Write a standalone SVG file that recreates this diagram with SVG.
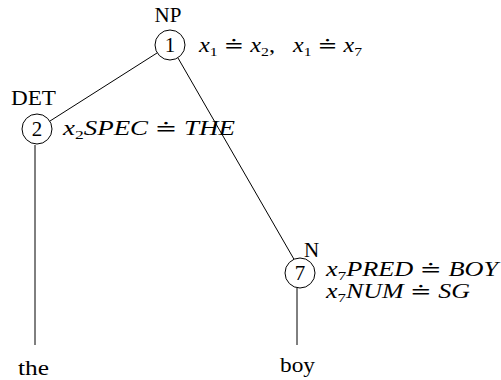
<svg xmlns="http://www.w3.org/2000/svg" width="501" height="380" viewBox="0 0 501 380">
<style>
.t{font-family:"Liberation Serif","DejaVu Serif",serif;font-size:21px;fill:#000}
.m{font-family:"Liberation Serif","DejaVu Serif",serif;font-size:20px;font-style:italic;fill:#000}
.s{font-style:normal;font-size:13px}
.r{font-style:normal}
.n{fill:#fff;stroke:#000;stroke-width:1}
.e{stroke:#000;stroke-width:1;fill:none}
</style>
<rect width="501" height="380" fill="#fff"/>
<g id="connectors">
<line class="e" x1="157" y1="53" x2="50" y2="121"/>
<line class="e" x1="178" y1="58" x2="295" y2="261"/>
<line class="e" x1="35" y1="145" x2="35" y2="345"/>
<line class="e" x1="297" y1="288" x2="297" y2="345"/>
</g>
<g id="node1">
<text class="t" x="168" y="22" text-anchor="middle">NP</text>
<circle class="n" cx="170" cy="45" r="15"/>
<text class="t" x="170" y="52" text-anchor="middle">1</text>
<text class="m" x="199" y="52" textLength="76" lengthAdjust="spacingAndGlyphs">x<tspan class="s" dy="4">1</tspan><tspan class="r" dy="-4"> ≐ </tspan>x<tspan class="s" dy="4">2</tspan><tspan class="r" dy="-4">,</tspan></text>
<text class="m" x="293" y="52" textLength="69" lengthAdjust="spacingAndGlyphs">x<tspan class="s" dy="4">1</tspan><tspan class="r" dy="-4"> ≐ </tspan>x<tspan class="s" dy="4">7</tspan></text>
</g>
<g id="node2">
<text class="t" x="11" y="105" textLength="45" lengthAdjust="spacingAndGlyphs">DET</text>
<circle class="n" cx="37" cy="129" r="15"/>
<text class="t" x="37" y="136" text-anchor="middle">2</text>
<text class="m" x="63" y="135" textLength="172" lengthAdjust="spacingAndGlyphs">x<tspan class="s" dy="4">2</tspan><tspan dy="-4">SPEC</tspan><tspan class="r"> ≐ </tspan>THE</text>
</g>
<g id="node7">
<text class="t" x="304" y="257">N</text>
<circle class="n" cx="300" cy="273" r="15"/>
<text class="t" x="300" y="280" text-anchor="middle">7</text>
<text class="m" x="326" y="276" textLength="172" lengthAdjust="spacingAndGlyphs">x<tspan class="s" dy="4">7</tspan><tspan dy="-4">PRED</tspan><tspan class="r"> ≐ </tspan>BOY</text>
<text class="m" x="326" y="298" textLength="144" lengthAdjust="spacingAndGlyphs">x<tspan class="s" dy="4">7</tspan><tspan dy="-4">NUM</tspan><tspan class="r"> ≐ </tspan>SG</text>
</g>
<g id="leaf-the">
<text class="t" x="18" y="375" textLength="31" lengthAdjust="spacingAndGlyphs">the</text>
</g>
<g id="leaf-boy">
<text class="t" x="280" y="372" textLength="35" lengthAdjust="spacingAndGlyphs">boy</text>
</g>
</svg>
